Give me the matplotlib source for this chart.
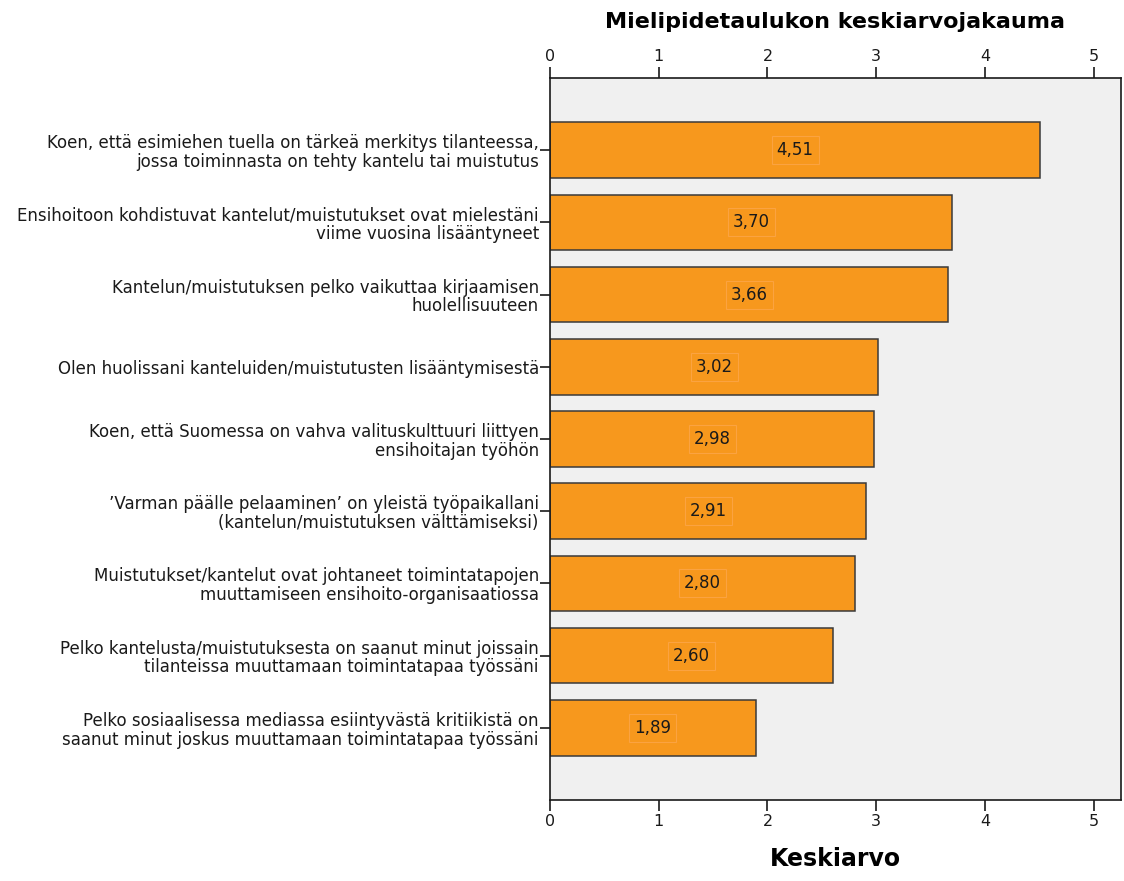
import matplotlib.pyplot as plt

plt.rcParams['font.family'] = ['DejaVu Sans']

# Mean values of the opinion table, one bar per statement
statements = [
    "Koen, että esimiehen tuella on tärkeä merkitys tilanteessa,\njossa toiminnasta on tehty kantelu tai muistutus",
    "Ensihoitoon kohdistuvat kantelut/muistutukset ovat mielestäni\nviime vuosina lisääntyneet",
    "Kantelun/muistutuksen pelko vaikuttaa kirjaamisen\nhuolellisuuteen",
    "Olen huolissani kanteluiden/muistutusten lisääntymisestä",
    "Koen, että Suomessa on vahva valituskulttuuri liittyen\nensihoitajan työhön",
    "\u2019Varman päälle pelaaminen\u2019 on yleistä työpaikallani\n(kantelun/muistutuksen välttämiseksi)",
    "Muistutukset/kantelut ovat johtaneet toimintatapojen\nmuuttamiseen ensihoito-organisaatiossa",
    "Pelko kantelusta/muistutuksesta on saanut minut joissain\ntilanteissa muuttamaan toimintatapaa työssäni",
    "Pelko sosiaalisessa mediassa esiintyvästä kritiikistä on\nsaanut minut joskus muuttamaan toimintatapaa työssäni",
]
means = [4.51, 3.70, 3.66, 3.02, 2.98, 2.91, 2.80, 2.60, 1.89]
xticks = [0, 1, 2, 3, 4, 5]

bar_color = '#f7981d'
ink = '#1a1a1a'

fig = plt.figure(figsize=(11.24, 8.81), dpi=100)
ax = fig.add_axes([0.4893, 0.0919, 0.508, 0.8196])
ax.set_facecolor('#f0f0f0')

pos = list(range(len(means)))
ax.barh(pos, means, height=0.77, color=bar_color, edgecolor='#3a3a3a', linewidth=1.1, zorder=2)

for p, m in zip(pos, means):
    ax.text(m / 2, p, f"{m:.2f}".replace('.', ','), ha='center', va='center',
            fontsize=12, color=ink, zorder=3,
            bbox=dict(boxstyle='square,pad=0.3', facecolor=bar_color, edgecolor='#fba341', linewidth=0.8))

ax.set_xlim(0, 5.25)
ax.set_ylim(9.0, -1.0)
ax.set_xticks(xticks)
ax.set_xticklabels([str(t) for t in xticks])
ax.set_yticks(pos)
ax.set_yticklabels(statements, fontsize=12, color=ink, linespacing=1.05)

ax.tick_params(axis='x', top=True, labeltop=True, bottom=True, labelbottom=True,
               direction='out', length=8, width=1.2, pad=2, labelsize=11.5, colors=ink)
ax.tick_params(axis='y', direction='out', length=7, width=1.2, pad=1, color=ink)

for s in ax.spines.values():
    s.set_color(ink)
    s.set_linewidth(1.2)

ax.set_title("Mielipidetaulukon keskiarvojakauma", fontsize=16, fontweight='bold', pad=36)
ax.set_xlabel("Keskiarvo", fontsize=17, fontweight='bold', labelpad=13)

fig.savefig('out.png', dpi=100)
